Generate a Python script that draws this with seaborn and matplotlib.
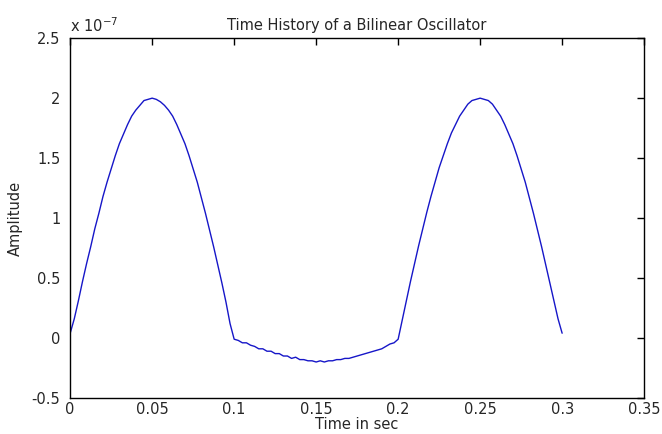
import numpy as np
import matplotlib
matplotlib.use("Agg")
import matplotlib.pyplot as plt
import seaborn as sns
import pandas as pd
from matplotlib.ticker import FuncFormatter

# time axis, sampled every 2.5 ms (0 .. 0.3 s)
time_sec = np.arange(121) * 0.0025

# amplitude, in units of 1e-7
hump1 = [0.04, 0.16, 0.31, 0.47, 0.62, 0.76, 0.91, 1.04, 1.18, 1.30,
         1.41, 1.52, 1.62, 1.70, 1.78, 1.85, 1.90, 1.94, 1.98, 1.99,
         2.00, 1.99, 1.97, 1.94, 1.90, 1.85, 1.78, 1.70, 1.62, 1.52,
         1.41, 1.30, 1.17, 1.04, 0.90, 0.76, 0.61, 0.46, 0.30, 0.12]
dip = [-0.01, -0.02, -0.04, -0.04, -0.06, -0.07, -0.09, -0.09, -0.11, -0.11,
       -0.13, -0.13, -0.15, -0.15, -0.17, -0.16, -0.18, -0.18, -0.19, -0.19,
       -0.20, -0.19, -0.20, -0.19, -0.19, -0.18, -0.18, -0.17, -0.17, -0.16,
       -0.15, -0.14, -0.13, -0.12, -0.11, -0.10, -0.09, -0.07, -0.05, -0.04]
hump2 = [-0.01, 0.15, 0.31, 0.47, 0.62, 0.77, 0.91, 1.05, 1.18, 1.30,
         1.42, 1.52, 1.62, 1.71, 1.78, 1.85, 1.90, 1.95, 1.98, 1.99,
         2.00, 1.99, 1.98, 1.95, 1.90, 1.85, 1.78, 1.70, 1.62, 1.52,
         1.41, 1.30, 1.17, 1.04, 0.90, 0.76, 0.61, 0.46, 0.31, 0.16,
         0.04]
amplitude = hump1 + dip + hump2

df = pd.DataFrame({"t": time_sec, "amp": amplitude})

sns.set_style("white")
plt.rcParams['font.family'] = ['DejaVu Sans']
plt.rcParams['axes.unicode_minus'] = False
txt = "#262626"

fig = plt.figure(figsize=(6.62, 4.34), dpi=100)
ax = fig.add_axes([0.106, 0.083, 0.867, 0.829])
sns.lineplot(data=df, x="t", y="amp", ax=ax, color="#1616c8", linewidth=1.0)

ax.set_xlim(0, 0.35)
ax.set_ylim(-0.5, 2.5)
ax.set_xticks(np.arange(0, 0.36, 0.05))
ax.set_yticks(np.arange(-0.5, 2.6, 0.5))
fmt = FuncFormatter(lambda v, p: "%g" % round(v, 4))
ax.xaxis.set_major_formatter(fmt)
ax.yaxis.set_major_formatter(fmt)
ax.tick_params(direction="in", length=5, width=1, color="black",
               labelcolor=txt, labelsize=10.5, top=True, right=True)
ax.tick_params(axis="y", pad=7)
ax.tick_params(axis="x", pad=3)
for s in ax.spines.values():
    s.set_color("black")
    s.set_linewidth(1.0)

ax.set_title("Time History of a Bilinear Oscillator", fontsize=10.5,
             color=txt, pad=6)
ax.set_xlabel("Time in sec", fontsize=10.5, color=txt, labelpad=0)
ax.set_ylabel("Amplitude", fontsize=10.5, color=txt, labelpad=6)
ax.text(0.0, 1.01, r"x 10$^{-7}$", transform=ax.transAxes, fontsize=10.5,
        color=txt, ha="left", va="bottom")

fig.savefig("out.png", dpi=100)
